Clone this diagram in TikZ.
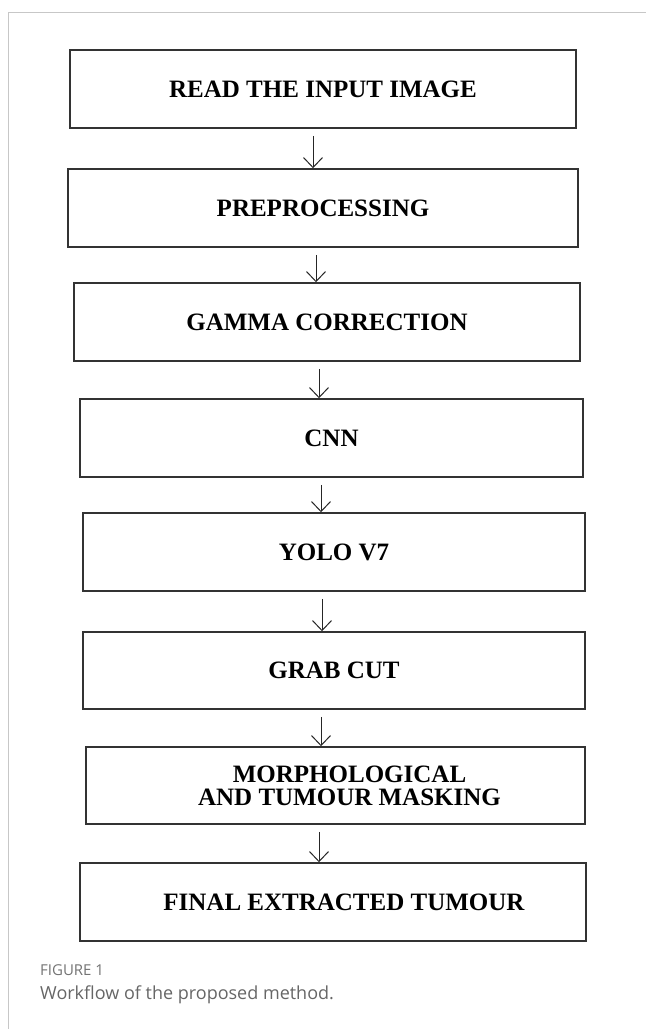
\documentclass[tikz,border=0pt]{standalone}
\usepackage{fontspec}
\setmainfont{Liberation Serif}
\newfontfamily\capfont{Open Sans}
\usetikzlibrary{arrows.meta}
\begin{document}
\begin{tikzpicture}[x=1pt,y=-1pt,
  stepbox/.style={draw=black!80, line width=1.5pt, inner sep=0pt,
    font=\fontsize{25}{23}\selectfont\bfseries, align=center},
  flow/.style={-{Straight Barb[length=10pt,width=19pt,line width=1pt]}, line width=1pt, draw=black!85},
  frame/.style={draw=black!22, line width=1pt},
  captag/.style={anchor=west, inner sep=0pt, text=black!55, font=\capfont\fontsize{15}{18}\selectfont},
  captext/.style={anchor=west, inner sep=0pt, text=black!60, font=\capfont\fontsize{18}{22}\selectfont}]
\useasboundingbox (0,0) rectangle (646,1029);
\draw[frame] (8,1029) -- (8,12) -- (646,12);

\node[stepbox, minimum width=506pt, minimum height=78pt] (b1) at (323,89) {READ THE INPUT IMAGE};
\node[stepbox, minimum width=510pt, minimum height=78pt] (b2) at (323,208) {PREPROCESSING};
\node[stepbox, minimum width=506pt, minimum height=78pt] (b3) at (327,322) {GAMMA CORRECTION};
\node[stepbox, minimum width=503pt, minimum height=78pt] (b4) at (331.5,438) {CNN};
\node[stepbox, minimum width=502pt, minimum height=78pt] (b5) at (334,552) {YOLO V7};
\node[stepbox, minimum width=502pt, minimum height=77pt] (b6) at (334,670.5) {GRAB CUT};
\node[stepbox, minimum width=499pt, minimum height=77pt] (b7) at (335.5,785.5) {\hspace*{28pt}MORPHOLOGICAL\\\hspace*{28pt}AND TUMOUR MASKING};
\node[stepbox, minimum width=506pt, minimum height=78pt] (b8) at (333,902) {\hspace*{22pt}FINAL EXTRACTED TUMOUR};

\draw[flow] ([xshift=-10pt,yshift=-7pt]b1.south) -- ([xshift=-10pt]b2.north);
\draw[flow] ([xshift=-7pt,yshift=-7pt]b2.south) -- ([xshift=-11pt]b3.north);
\draw[flow] ([xshift=-8pt,yshift=-7pt]b3.south) -- ([xshift=-12.5pt]b4.north);
\draw[flow] ([xshift=-10.5pt,yshift=-7pt]b4.south) -- ([xshift=-13pt]b5.north);
\draw[flow] ([xshift=-12pt,yshift=-7pt]b5.south) -- ([xshift=-12pt]b6.north);
\draw[flow] ([xshift=-13pt,yshift=-7pt]b6.south) -- ([xshift=-14.5pt]b7.north);
\draw[flow] ([xshift=-16.5pt,yshift=-7pt]b7.south) -- ([xshift=-14pt]b8.north);

\node[captag] (tag) at (40,970) {FIGURE 1};
\node[captext] (cap) at (40,995) {Workflow of the proposed method.};
\end{tikzpicture}
\end{document}
